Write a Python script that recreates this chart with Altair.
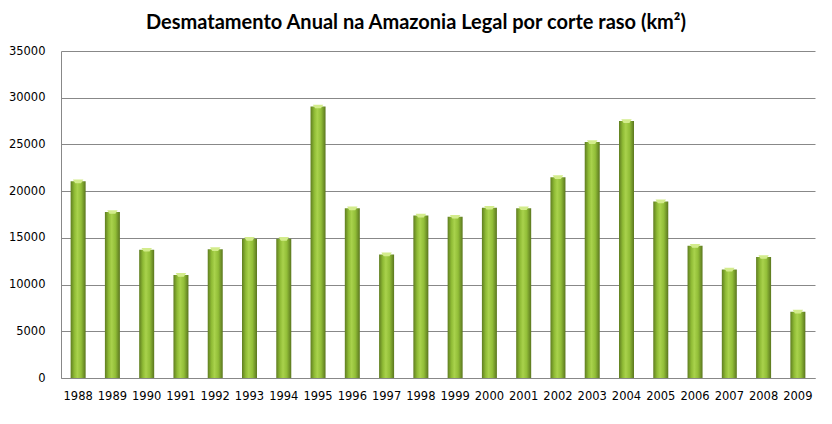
import altair as alt
import pandas as pd

years = [str(y) for y in range(1988, 2010)]
values = [21050, 17770, 13730, 11030, 13786, 14896, 14896, 29059, 18161, 13227,
          17383, 17259, 18226, 18165, 21500, 25250, 27500, 18900, 14150, 11600,
          12950, 7100]

df = pd.DataFrame({"ano": years, "area": values})

grad = alt.Gradient(
    gradient="linear", x1=0, x2=1, y1=0, y2=0,
    stops=[
        alt.GradientStop(color="#5f7d20", offset=0),
        alt.GradientStop(color="#8fbb35", offset=0.25),
        alt.GradientStop(color="#a9d24c", offset=0.45),
        alt.GradientStop(color="#92be38", offset=0.7),
        alt.GradientStop(color="#5a761e", offset=1),
    ],
)

x = alt.X("ano:N", title=None, sort=years,
          scale=alt.Scale(paddingInner=0.56, paddingOuter=0.28),
          axis=alt.Axis(labelAngle=0, ticks=False, labelPadding=12, labelFontSize=11.5,
                        labelColor="#000000", labelFont="DejaVu Sans",
                        domainColor="#888888", grid=False))
y = alt.Y("area:Q", title=None,
          scale=alt.Scale(domain=[0, 35000]),
          axis=alt.Axis(values=list(range(0, 35001, 5000)), format="d", ticks=False,
                        labelPadding=16,
                        labelFontSize=11.5, labelColor="#000000", labelFont="DejaVu Sans",
                        domainColor="#888888", gridColor="#888888", gridWidth=1))

bars = alt.Chart(df).mark_bar(size=15, color=grad).encode(x=x, y=y)

caps = alt.Chart(df).mark_point(
    shape="M-1,-0.35 L1,-0.35 L0.55,0.35 L-0.55,0.35 Z",
    filled=True, color="#d3ec8c", opacity=1, size=110, strokeWidth=0
).encode(x=x, y=y)

chart = alt.layer(bars, caps).properties(
    width=754, height=327,
    autosize=alt.AutoSizeParams(type="none"),
    padding={"left": 53, "top": 43, "right": 9, "bottom": 38},
    title=alt.Title("Desmatamento Anual na Amazonia Legal por corte raso (km²)",
                    font="Lato", fontSize=20, fontWeight="bold", color="#000000",
                    anchor="middle", dx=-22, offset=12),
).configure_view(stroke=None)

chart.save("out.html", embed_options={"renderer": "svg", "actions": False})
